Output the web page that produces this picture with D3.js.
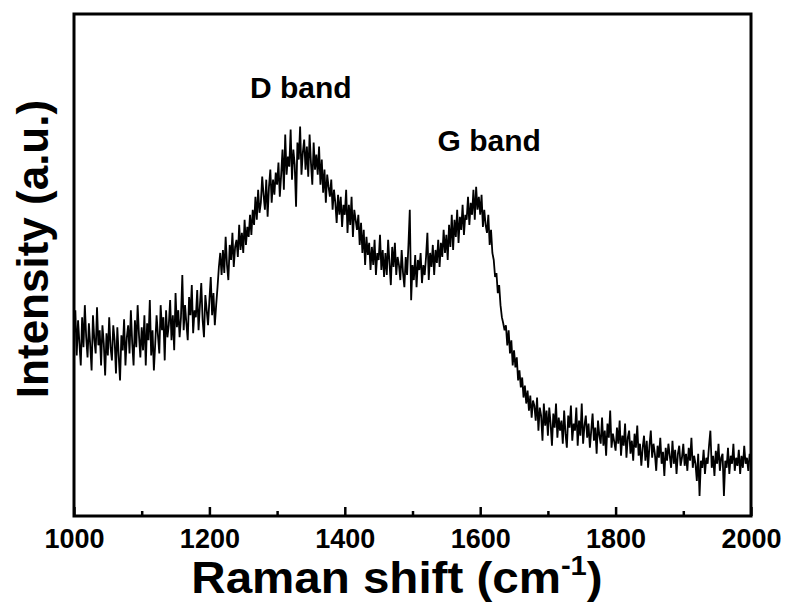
<!DOCTYPE html>
<html>
<head>
<meta charset="utf-8">
<script src="https://cdn.jsdelivr.net/npm/d3@7/dist/d3.min.js"></script>
<style>
  html, body { margin: 0; padding: 0; background: #fff; }
  svg { display: block; }
  text { font-family: "Liberation Sans", Arial, sans-serif; font-weight: bold; fill: #000; }
</style>
</head>
<body>
<svg id="chart" width="788" height="608"></svg>
<script>
// Raman spectrum, sampled every 2 cm^-1 from 1000 cm^-1 (one row = 20 cm^-1)
const shiftStart = 1000;
const shiftStep = 2;
const intensity = [
  180, 205, 160, 195, 172, 150, 198, 168, 210, 178,
  158, 192, 170, 145, 200, 176, 162, 208, 170, 185,
  150, 190, 172, 140, 182, 160, 198, 168, 155, 190,
  175, 142, 188, 160, 135, 180, 165, 196, 150, 178,
  190, 162, 205, 172, 150, 195, 168, 210, 180, 158,
  188, 165, 200, 150, 192, 175, 215, 160, 185, 145,
  172, 200, 180, 162, 210, 185, 198, 155, 205, 178,
  190, 215, 175, 200, 165, 222, 188, 205, 178, 198,
  240, 185, 210, 192, 175, 218, 200, 230, 182, 205,
  198, 225, 185, 210, 232, 195, 178, 220, 205, 190,
  215, 238, 200, 222, 190, 210, 228, 248, 262, 240,
  265, 242, 278, 250, 235, 270, 255, 282, 248, 268,
  275, 258, 290, 265, 282, 262, 295, 270, 288, 278,
  300, 280, 305, 290, 318, 295, 325, 302, 312, 338,
  320, 305, 335, 298, 328, 345, 312, 335, 320, 342,
  330, 352, 318, 340, 365, 325, 380, 340, 358, 348,
  385, 335, 365, 350, 308, 372, 355, 388, 340, 362,
  375, 345, 368, 338, 380, 352, 330, 372, 345, 360,
  340, 368, 330, 355, 322, 345, 312, 340, 328, 318,
  335, 305, 325, 312, 292, 320, 300, 318, 288, 310,
  300, 325, 282, 310, 290, 318, 278, 305, 295, 285,
  300, 270, 292, 262, 285, 250, 278, 260, 272, 245,
  268, 250, 275, 240, 262, 255, 280, 245, 265, 238,
  262, 240, 275, 252, 230, 268, 248, 272, 240, 258,
  250, 235, 265, 242, 228, 258, 240, 270, 305, 215,
  250, 235, 260, 228, 255, 245, 262, 232, 250, 240,
  258, 282, 235, 262, 248, 270, 240, 265, 252, 275,
  248, 272, 258, 285, 262, 280, 255, 290, 268, 300,
  265, 295, 278, 305, 272, 298, 285, 310, 280, 300,
  295, 318, 290, 312, 300, 325, 295, 328, 305, 318,
  300, 320, 288, 305, 290, 282, 300, 270, 285, 262,
  255, 238, 242, 222, 230, 210, 198, 192, 185, 190,
  170, 185, 162, 175, 150, 165, 148, 158, 135, 145,
  128, 138, 118, 130, 112, 125, 105, 120, 98, 115,
  110, 95, 118, 85, 108, 100, 75, 112, 90, 105,
  80, 108, 92, 70, 102, 88, 112, 78, 98, 85,
  95, 72, 105, 82, 68, 100, 88, 110, 75, 92,
  85, 108, 70, 95, 80, 112, 72, 90, 100, 78,
  92, 68, 85, 102, 75, 88, 62, 95, 80, 72,
  98, 70, 85, 60, 92, 78, 105, 68, 82, 74,
  65, 88, 72, 95, 60, 80, 70, 92, 58, 78,
  85, 62, 75, 55, 82, 68, 90, 60, 72, 50,
  68, 80, 55, 75, 48, 70, 85, 58, 72, 62,
  45, 70, 58, 78, 52, 64, 40, 68, 55, 72,
  60, 48, 75, 52, 66, 42, 62, 70, 50, 58,
  72, 50, 62, 45, 68, 55, 78, 48, 60, 52,
  35, 62, 20, 55, 48, 66, 42, 58, 52, 70,
  85, 48, 60, 40, 65, 52, 72, 45, 58, 62,
  20, 55, 48, 68, 42, 60, 52, 72, 45, 58,
  50, 66, 42, 60, 48, 70, 52, 58, 45, 62
];
const shifts = intensity.map((_, i) => shiftStart + i * shiftStep);

const majorTicks = [1000, 1200, 1400, 1600, 1800, 2000];
const minorTicks = [1100, 1300, 1500, 1700, 1900];
const bandLabels = [
  { name: "D band", shift: 1260, level: 416 },
  { name: "G band", shift: 1537, level: 364 }
];

const svg = d3.select("#chart");
const plotLeft = 74, plotRight = 751, plotTop = 14, plotBottom = 516;

const x = d3.scaleLinear().domain([1000, 2000]).range([plotLeft, plotRight]);
const y = d3.scaleLinear().domain([0, 500]).range([plotBottom, plotTop]);

// spectrum trace
const line = d3.line()
  .x((d, i) => x(shifts[i]))
  .y(d => y(d));

svg.append("path")
  .datum(intensity)
  .attr("d", line)
  .attr("fill", "none")
  .attr("stroke", "#000")
  .attr("stroke-width", 1.8)
  .attr("stroke-linejoin", "miter");

// minor ticks (inward)
svg.append("g")
  .attr("transform", `translate(0,${plotBottom})`)
  .call(d3.axisBottom(x).tickValues(minorTicks).tickSizeInner(-5).tickSizeOuter(0).tickFormat(""))
  .call(g => g.select(".domain").remove())
  .call(g => g.selectAll("line").attr("stroke", "#000").attr("stroke-width", 2.5));

// major ticks with labels
svg.append("g")
  .attr("transform", `translate(0,${plotBottom})`)
  .call(d3.axisBottom(x).tickValues(majorTicks).tickSizeInner(-9).tickSizeOuter(0).tickPadding(13).tickFormat(d3.format("d")))
  .call(g => g.select(".domain").remove())
  .call(g => g.selectAll("line").attr("stroke", "#000").attr("stroke-width", 2.5))
  .call(g => g.selectAll("text").attr("font-size", 27).attr("fill", "#000")
    .attr("font-family", "'Liberation Sans', Arial, sans-serif").attr("font-weight", "bold"));

// frame
svg.append("rect")
  .attr("x", plotLeft).attr("y", plotTop)
  .attr("width", plotRight - plotLeft).attr("height", plotBottom - plotTop)
  .attr("fill", "none").attr("stroke", "#000").attr("stroke-width", 3);

// band annotations
svg.selectAll(".band")
  .data(bandLabels)
  .enter().append("text")
  .attr("class", "band")
  .attr("x", d => x(d.shift))
  .attr("y", d => y(d.level))
  .attr("font-size", 30)
  .text(d => d.name);

// axis titles
const xt = svg.append("g")
  .attr("transform", "translate(397,593) scale(1.08,1)")
  .append("text")
  .attr("text-anchor", "middle")
  .attr("font-size", 44);
xt.append("tspan").text("Raman shift (cm");
xt.append("tspan").attr("font-size", 27).attr("dy", -18).text("-1");
xt.append("tspan").attr("dy", 18).text(")");

svg.append("text")
  .attr("transform", "translate(48,249) rotate(-90)")
  .attr("text-anchor", "middle")
  .attr("font-size", 44)
  .text("Intensity (a.u.)");
</script>
</body>
</html>
